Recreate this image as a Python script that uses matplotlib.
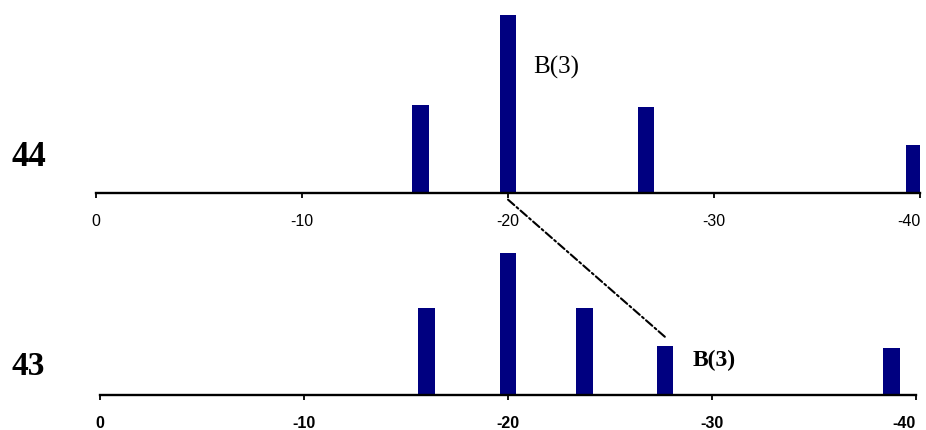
import matplotlib.pyplot as plt
from matplotlib.patches import ConnectionPatch

# Peak positions (x, reversed axis) and relative intensities
top_pos = [-15.75, -20.0, -26.7, -39.75]
top_int = [49, 100, 48, 26.5]
bot_pos = [-16.0, -20.0, -23.75, -27.7, -38.8]
bot_int = [49, 80, 49, 27.5, 26.5]
ticks = [0, -10, -20, -30, -40]
tick_labels = ['0', '-10', '-20', '-30', '-40']
navy = '#000080'

W, H = 926, 431
fig = plt.figure(figsize=(W / 100, H / 100), dpi=100)

ax1 = fig.add_axes([96 / W, (H - 193.5) / H, 824 / W, 178 / H])
ax2 = fig.add_axes([100 / W, (H - 396) / H, 816 / W, 178 / H])

for ax, pos, inten, bold in [(ax1, top_pos, top_int, False),
                             (ax2, bot_pos, bot_int, True)]:
    ax.bar(pos, inten, width=0.82, color=navy, zorder=1)
    ax.set_xlim(0, -40)
    ax.set_ylim(0, 100)
    ax.patch.set_alpha(0)
    for s in ['top', 'right', 'left']:
        ax.spines[s].set_visible(False)
    ax.spines['bottom'].set_linewidth(1.7)
    ax.spines['bottom'].set_zorder(3)
    ax.set_yticks([])
    ax.set_xticks(ticks)
    ax.set_xticklabels(tick_labels, fontfamily='Liberation Sans',
                       fontsize=11.5, fontweight='bold' if bold else 'normal')
    ax.tick_params(axis='x', direction='out', length=3.5, width=1.3, pad=11)
    # keep the last label inside the figure
    ax.get_xticklabels()[-1].set_ha('right')

ax1.text(-21.2, 71, 'B(3)', fontfamily='Liberation Serif', fontsize=18,
         ha='left', va='center')
ax2.text(-29.07, 20, 'B(3)', fontfamily='Liberation Serif', fontsize=17,
         fontweight='bold', ha='left', va='center')

fig.text(12 / W, 1 - 157 / H, '44', fontfamily='Liberation Serif',
         fontsize=25, fontweight='bold', ha='left', va='center')
fig.text(12 / W, 1 - 367 / H, '43', fontfamily='Liberation Serif',
         fontsize=24, fontweight='bold', ha='left', va='center')

con = ConnectionPatch(xyA=(-20, -4), coordsA=ax1.transData,
                      xyB=(-27.7, 32.6), coordsB=ax2.transData,
                      color='black', lw=1.5,
                      linestyle=(0, (4, 1.5, 1, 1.5)))
fig.add_artist(con)

fig.savefig('out.png', dpi=100)
